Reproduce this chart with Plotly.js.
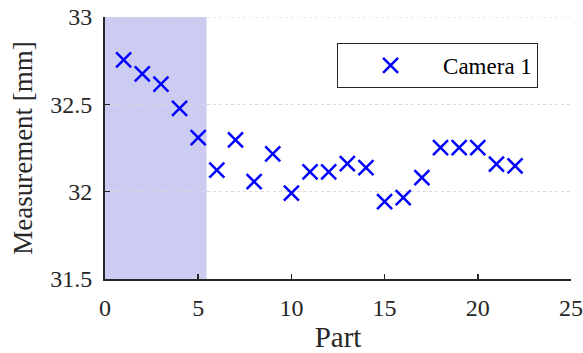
<!DOCTYPE html>
<html>
<head>
<meta charset="utf-8">
<script src="https://cdn.plot.ly/plotly-3.0.1.min.js"></script>
<style>
html,body{margin:0;padding:0;background:#fff}
#chart{width:583px;height:353px}
</style>
</head>
<body>
<div id="chart"></div>
<script>
const parts = [1,2,3,4,5,6,7,8,9,10,11,12,13,14,15,16,17,18,19,20,21,22];
const camera1 = [32.754,32.674,32.616,32.477,32.309,32.124,32.296,32.057,32.216,31.991,32.113,32.113,32.160,32.137,31.943,31.966,32.080,32.252,32.252,32.252,32.157,32.147];
const shadeRange = [0, 5.45];
const xTicks = [0,5,10,15,20,25];
const yTicks = [31.5,32,32.5,33];
const yTickLabels = ['31.5','32','32.5','33'];

const font = 'Times New Roman';
const ink = '#262626';

const data = [{
  x: parts, y: camera1, type: 'scatter', mode: 'markers', name: 'Camera 1',
  marker: {symbol: 'x-thin', size: 15, color: '#0000ff', line: {color: '#0000ff', width: 2.5}}
}];

const layout = {
  width: 583, height: 353,
  margin: {l: 105, r: 12, t: 17, b: 74},
  paper_bgcolor: '#fff', plot_bgcolor: '#fff',
  font: {family: font, color: ink, size: 24},
  showlegend: true,
  legend: {
    x: 0.498, y: 0.901, xanchor: 'left', yanchor: 'top',
    bordercolor: ink, borderwidth: 1, bgcolor: '#fff',
    itemwidth: 95, entrywidth: 204, font: {family: font, size: 23, color: '#000'}
  },
  xaxis: {
    range: [0, 25], tickvals: xTicks, ticktext: xTicks.map(String),
    ticks: 'inside', ticklen: 5, tickwidth: 1.5, tickcolor: ink, ticklabelstandoff: 6,
    showline: true, linecolor: ink, linewidth: 2, showgrid: false, zeroline: false,
    tickfont: {family: font, size: 24, color: ink},
    title: {text: 'Part', font: {family: font, size: 29, color: ink}, standoff: 9}
  },
  yaxis: {
    range: [31.5, 33], tickvals: yTicks, ticktext: yTickLabels,
    ticks: 'inside', ticklen: 5, tickwidth: 1.5, tickcolor: ink, ticklabelstandoff: 6,
    showline: true, linecolor: ink, linewidth: 2,
    showgrid: true, gridcolor: '#d9d9d9', griddash: 'dot', gridwidth: 1, zeroline: false,
    tickfont: {family: font, size: 24, color: ink},
    title: {text: 'Measurement [mm]', font: {family: font, size: 27, color: ink}, standoff: 10}
  },
  shapes: [{
    type: 'rect', xref: 'x', yref: 'y', layer: 'below',
    x0: shadeRange[0], x1: shadeRange[1], y0: yTicks[0], y1: yTicks[yTicks.length - 1],
    fillcolor: 'rgb(204,204,243)', line: {width: 0}
  }, {
    type: 'line', xref: 'paper', yref: 'y', layer: 'above',
    x0: 0, x1: 1, y0: yTicks[yTicks.length - 1], y1: yTicks[yTicks.length - 1],
    line: {color: '#d9d9d9', width: 1, dash: 'dot'}
  }]
};

Plotly.newPlot('chart', data, layout, {displayModeBar: false, staticPlot: true});
</script>
</body>
</html>
